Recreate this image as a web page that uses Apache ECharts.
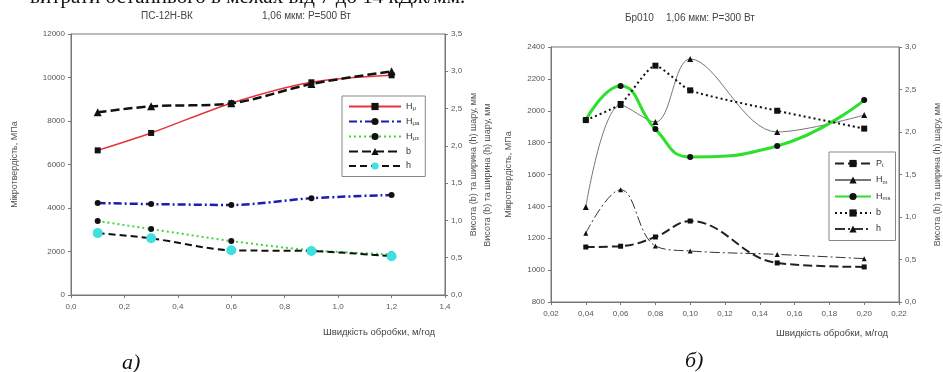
<!DOCTYPE html>
<html>
<head>
<meta charset="utf-8">
<script src="https://cdn.jsdelivr.net/npm/echarts@6/dist/echarts.min.js"></script>
<style>
  html, body { margin: 0; padding: 0; background: #fff; }
  #chart { width: 943px; height: 372px; }
</style>
</head>
<body>
<div id="chart"></div>
<script>
// ліва діаграма (а) - ПС-12Н-ВК
var xA = [0.1, 0.3, 0.6, 0.9, 1.2];
var hmA = [6650, 7450, 8820, 9780, 10100];
var hmaA = [4230, 4180, 4140, 4450, 4600];
var hmsA = [3400, 3030, 2480, 2060, 1870];
var bA = [2.45, 2.53, 2.57, 2.83, 3.0];
var hA = [0.83, 0.76, 0.60, 0.59, 0.52];

// права діаграма (б) - Бр010
var xB = [0.04, 0.06, 0.08, 0.10, 0.15, 0.20];
var ptB = [1145, 1150, 1208, 1308, 1045, 1020];
var hmB = [1396, 2036, 1929, 2325, 1867, 1973];
var hmsB = [1942, 2155, 1885, 1710, 1779, 2067];
var bB = [2.14, 2.33, 2.78, 2.49, 2.25, 2.04];
var hB = [0.81, 1.32, 0.66, 0.60, 0.56, 0.51];

function pairs(xs, ys) {
    var out = [];
    for (var i = 0; i < xs.length; i++) out.push([xs[i], ys[i]]);
    return out;
}
function comma(d) {
    return function (v) { return v.toFixed(d).replace('.', ','); };
}

var myChart = echarts.init(document.getElementById('chart'));
var axisCol = '#777';
var lblStyle = { color: '#555', fontSize: 8, fontFamily: 'Arial' };

function valAxis(opt) {
    return Object.assign({
        type: 'value',
        axisLine: { show: true, lineStyle: { color: axisCol, width: 1 } },
        axisTick: { show: true, length: 3, lineStyle: { color: axisCol } },
        splitLine: { show: false },
        axisLabel: Object.assign({ margin: 6, formatter: comma(0) }, lblStyle),
        nameTextStyle: { color: '#555', fontSize: 9, fontFamily: 'Arial' },
        nameLocation: 'middle'
    }, opt);
}

var legendNames = {
    'hmA': 'H{s|μ}', 'hmaA': 'H{s|μa}', 'hmsA': 'H{s|μз}', 'bA': 'b', 'hA': 'h',
    'ptB': 'P{s|t}', 'hmB': 'H{s|m}', 'hmsB': 'H{s|ms}', 'bB': 'b', 'hB': 'h'
};
var legendText = {
    color: '#333', fontSize: 9, fontFamily: 'Arial',
    rich: { s: { fontSize: 6, color: '#333', verticalAlign: 'bottom', padding: [4, 0, 0, 0] } }
};

option = {
    backgroundColor: '#fff',
    animation: false,
    grid: [
        { left: 71, top: 34, width: 374, height: 261, show: true, borderColor: axisCol, borderWidth: 1 },
        { left: 551, top: 47, width: 351, height: 255, show: true, borderColor: axisCol, borderWidth: 1 }
    ],
    xAxis: [
        valAxis({ gridIndex: 0, min: 0, max: 1.4, interval: 0.2, axisLabel: Object.assign({ margin: 8, formatter: comma(1) }, lblStyle) }),
        valAxis({ gridIndex: 1, min: 0.02, max: 0.22, interval: 0.02, axisLabel: Object.assign({ margin: 8, formatter: comma(2) }, lblStyle) })
    ],
    yAxis: [
        valAxis({ gridIndex: 0, min: 0, max: 12000, interval: 2000, name: 'Мікротвердість, МПа', nameGap: 52 }),
        valAxis({ gridIndex: 0, position: 'right', min: 0, max: 3.5, interval: 0.5, axisLabel: Object.assign({ margin: 6, formatter: comma(1) }, lblStyle),
            name: 'Висота (b) та ширина (h) шару, мм', nameGap: 24, nameRotate: 90 }),
        valAxis({ gridIndex: 1, min: 800, max: 2400, interval: 200, name: 'Мікротвердість, МПа', nameGap: 38 }),
        valAxis({ gridIndex: 1, position: 'right', min: 0, max: 3.0, interval: 0.5, axisLabel: Object.assign({ margin: 6, formatter: comma(1) }, lblStyle),
            name: 'Висота (b) та ширина (h) шару, мм', nameGap: 34, nameRotate: 90 })
    ],
    legend: [
        {
            left: 342, top: 96, orient: 'vertical', itemWidth: 52, itemHeight: 9, itemGap: 5.5,
            padding: [6, 6, 6, 6], borderColor: '#888', borderWidth: 1, backgroundColor: '#fff',
            data: ['hmA', 'hmaA', 'hmsA', 'bA', 'hA'],
            formatter: function (n) { return legendNames[n]; }, textStyle: legendText
        },
        {
            left: 829, top: 152, orient: 'vertical', itemWidth: 36, itemHeight: 9, itemGap: 7,
            padding: [7, 5, 7, 5], borderColor: '#888', borderWidth: 1, backgroundColor: '#fff',
            data: ['ptB', 'hmB', 'hmsB', 'bB', 'hB'],
            formatter: function (n) { return legendNames[n]; }, textStyle: legendText
        }
    ],
    series: [
        { name: 'hmA', type: 'line', xAxisIndex: 0, yAxisIndex: 0, data: pairs(xA, hmA), smooth: 0.3,
          lineStyle: { color: '#e8323c', width: 1.5 }, symbol: 'rect', symbolSize: 6, itemStyle: { color: '#111' } },
        { name: 'hmaA', type: 'line', xAxisIndex: 0, yAxisIndex: 0, data: pairs(xA, hmaA), smooth: 0.3,
          lineStyle: { color: '#1c1cb0', width: 2.5, type: [8, 3, 2, 3] }, symbol: 'circle', symbolSize: 6, itemStyle: { color: '#111' } },
        { name: 'hmsA', type: 'line', xAxisIndex: 0, yAxisIndex: 0, data: pairs(xA, hmsA), smooth: 0.3,
          lineStyle: { color: '#3ed83e', width: 2, type: [2, 3] }, symbol: 'circle', symbolSize: 6, itemStyle: { color: '#111' } },
        { name: 'bA', type: 'line', xAxisIndex: 0, yAxisIndex: 1, data: pairs(xA, bA), smooth: 0.3,
          lineStyle: { color: '#111', width: 2.5, type: [9, 4] }, symbol: 'triangle', symbolSize: 8, itemStyle: { color: '#111' } },
        { name: 'hA', type: 'line', xAxisIndex: 0, yAxisIndex: 1, data: pairs(xA, hA), smooth: 0.3,
          lineStyle: { color: '#111', width: 2, type: [7, 4] }, symbol: 'circle', symbolSize: 10, itemStyle: { color: '#3ee0e0' } },

        { name: 'ptB', type: 'line', xAxisIndex: 1, yAxisIndex: 2, data: pairs(xB, ptB), smooth: 0.4,
          lineStyle: { color: '#222', width: 2, type: [9, 4] }, symbol: 'rect', symbolSize: 5, itemStyle: { color: '#111' } },
        { name: 'hmB', type: 'line', xAxisIndex: 1, yAxisIndex: 2, data: pairs(xB, hmB), smooth: 0.35,
          lineStyle: { color: '#777', width: 1 }, symbol: 'triangle', symbolSize: 6, itemStyle: { color: '#111' } },
        { name: 'hmsB', type: 'line', xAxisIndex: 1, yAxisIndex: 2, data: pairs(xB, hmsB), smooth: 0.5,
          lineStyle: { color: '#2ee02e', width: 3 }, symbol: 'circle', symbolSize: 6, itemStyle: { color: '#111' } },
        { name: 'bB', type: 'line', xAxisIndex: 1, yAxisIndex: 3, data: pairs(xB, bB), smooth: 0.2,
          lineStyle: { color: '#111', width: 2, type: [2, 3] }, symbol: 'rect', symbolSize: 6, itemStyle: { color: '#111' } },
        { name: 'hB', type: 'line', xAxisIndex: 1, yAxisIndex: 3, data: pairs(xB, hB), smooth: 0.4,
          lineStyle: { color: '#333', width: 1, type: [10, 3, 2, 3] }, symbol: 'triangle', symbolSize: 5, itemStyle: { color: '#111' } }
    ],
    graphic: [
        { type: 'text', left: 30, top: -13, style: { text: 'витрати останнього в межах від 7 до 14 кДж/мм.', fill: '#111', font: '21px "Liberation Serif"' } },
        { type: 'text', left: 141, top: 11, style: { text: 'ПС-12Н-ВК', fill: '#444', font: '10px Arial' } },
        { type: 'text', left: 262, top: 11, style: { text: '1,06 мкм: P=500 Вт', fill: '#444', font: '10px Arial' } },
        { type: 'text', left: 625, top: 13, style: { text: 'Бр010', fill: '#444', font: '10px Arial' } },
        { type: 'text', left: 666, top: 13, style: { text: '1,06 мкм: P=300 Вт', fill: '#444', font: '10px Arial' } },
        { type: 'text', left: 323, top: 327, style: { text: 'Швидкість обробки, м/год', fill: '#444', font: '9.5px Arial' } },
        { type: 'text', left: 776, top: 328, style: { text: 'Швидкість обробки, м/год', fill: '#444', font: '9.5px Arial' } },
        { type: 'text', x: 488, y: 175, rotation: Math.PI / 2, style: { text: 'Висота (b) та ширина (h) шару, мм', fill: '#555', font: '9px Arial', align: 'center', verticalAlign: 'middle' } },
        { type: 'text', left: 122, top: 352, style: { text: 'а)', fill: '#111', font: 'italic 22px "Liberation Serif"' } },
        { type: 'text', left: 685, top: 350, style: { text: 'б)', fill: '#111', font: 'italic 22px "Liberation Serif"' } }
    ]
};
myChart.setOption(option);
</script>
</body>
</html>
